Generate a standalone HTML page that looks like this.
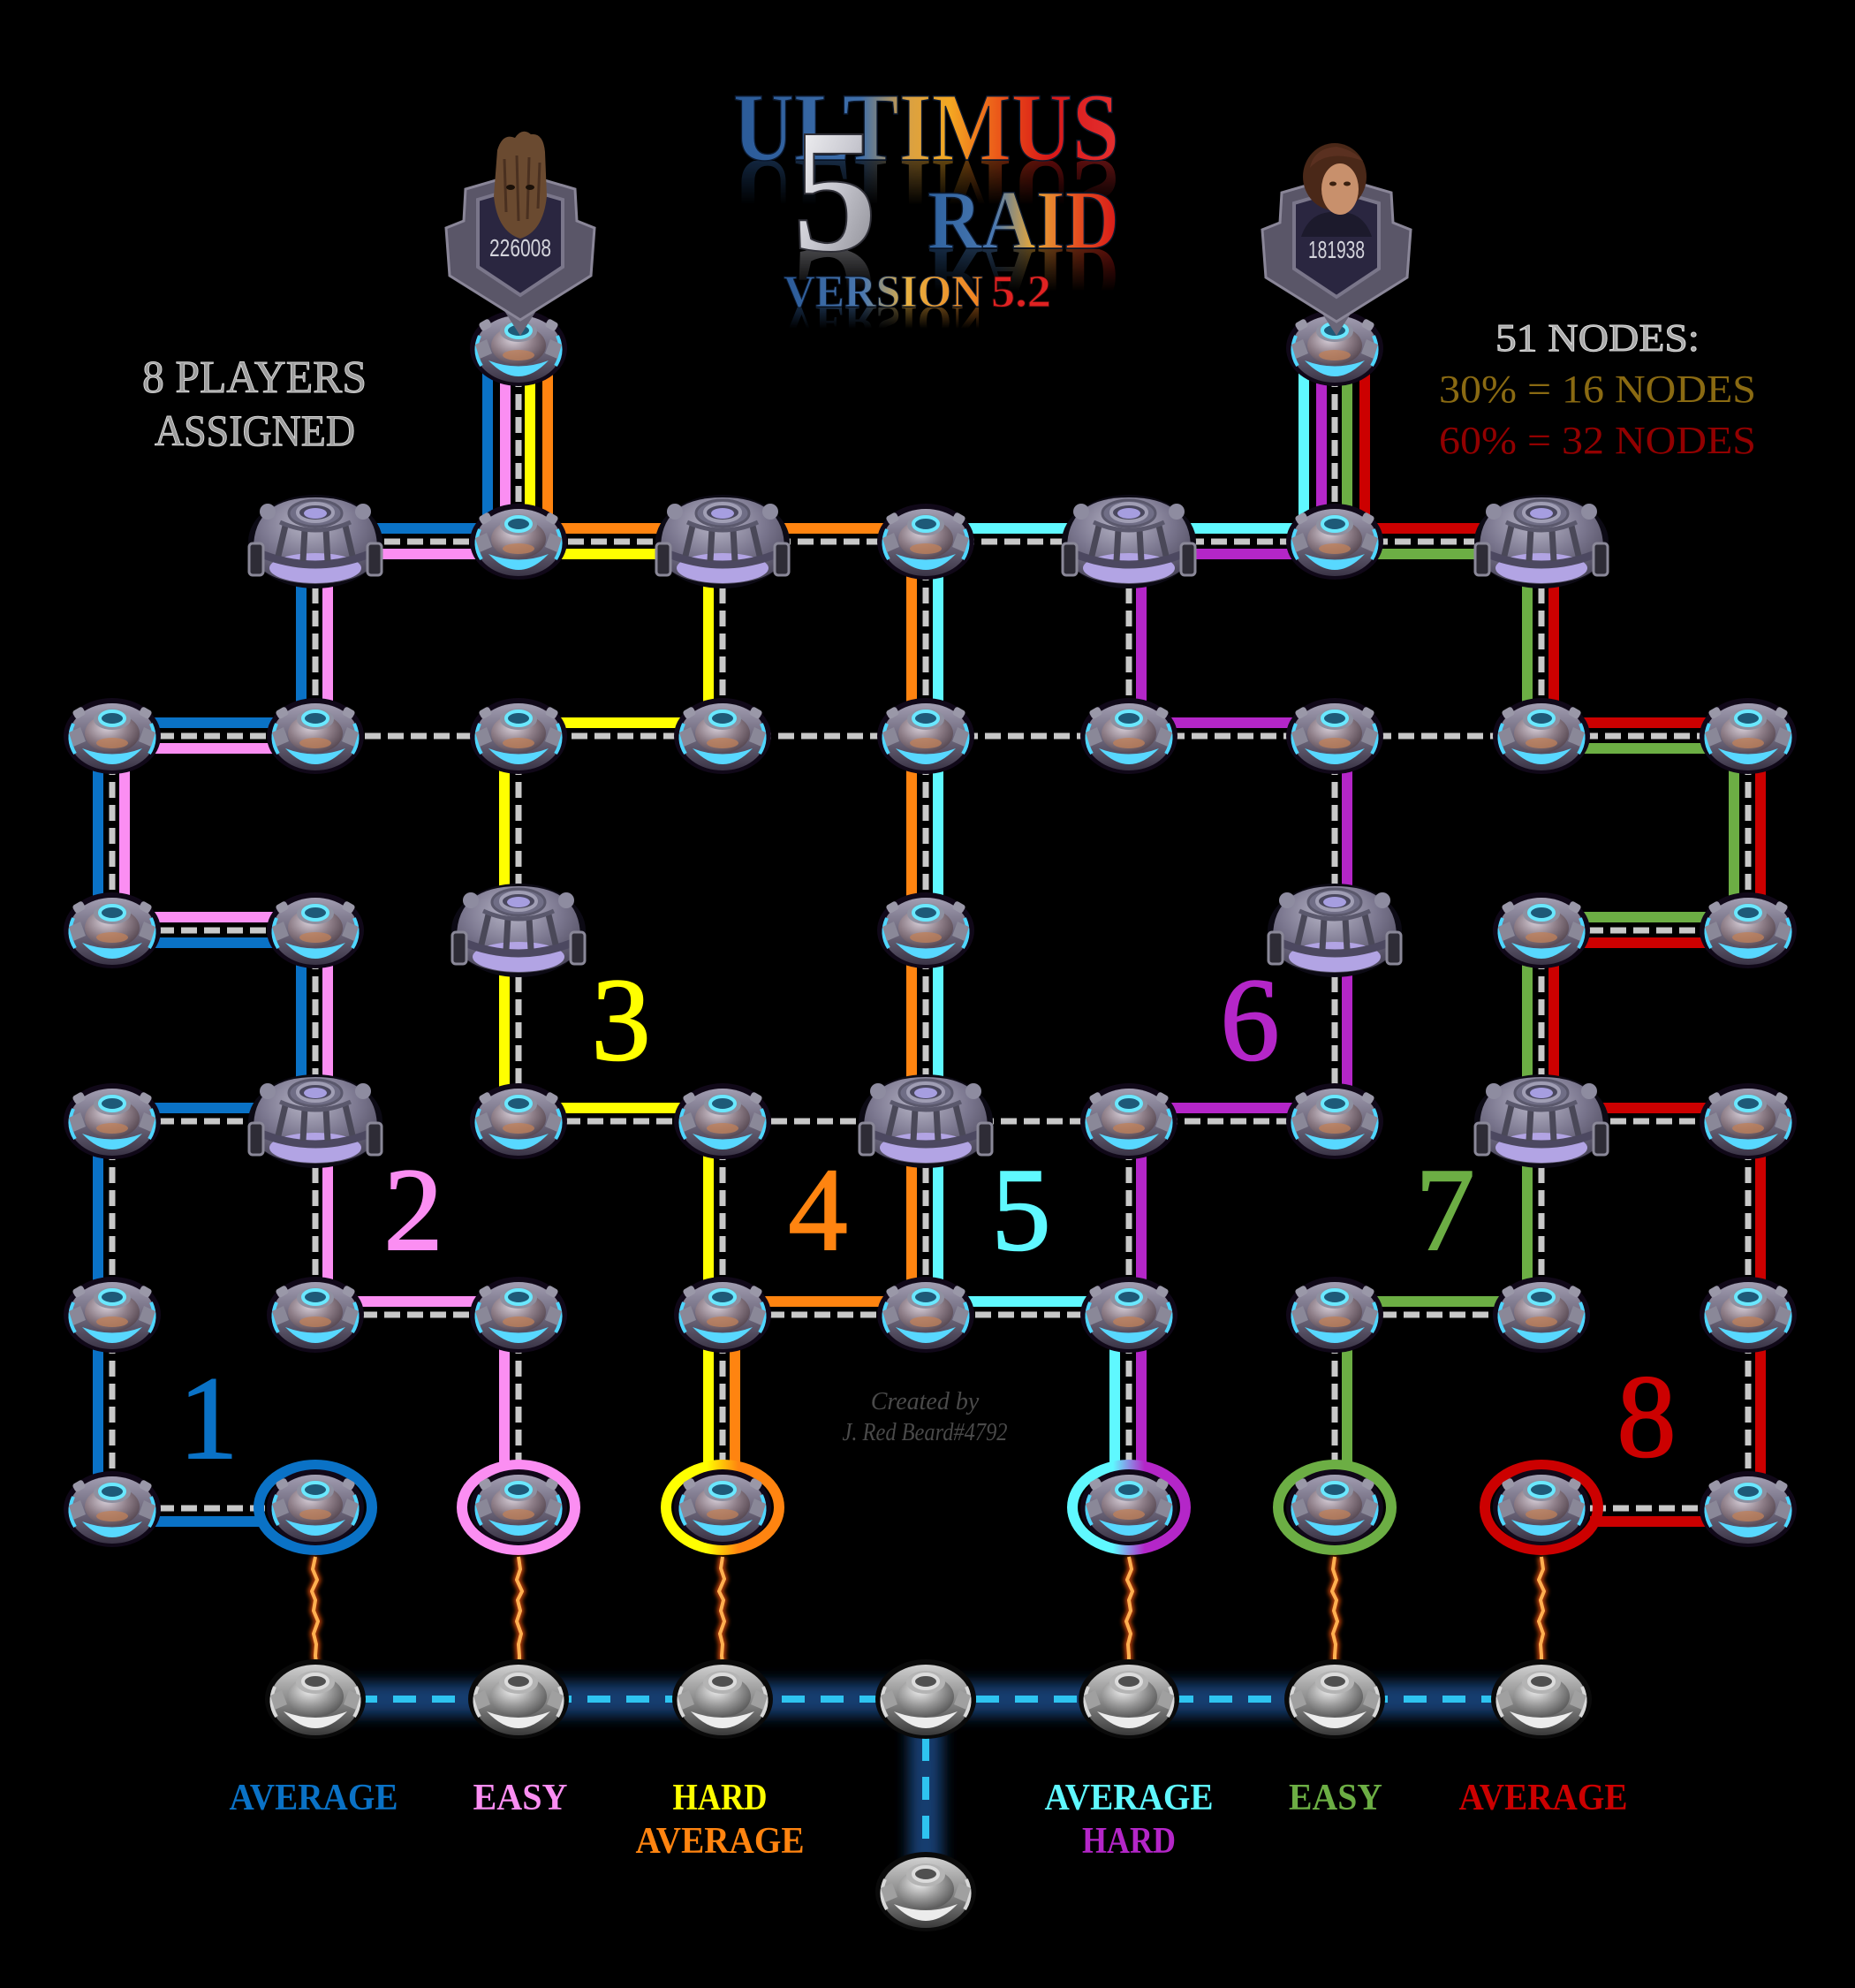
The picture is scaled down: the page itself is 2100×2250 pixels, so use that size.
<!DOCTYPE html>
<html><head><meta charset="utf-8"><style>
html,body{margin:0;padding:0;background:#000;}
body{width:2100px;height:2250px;overflow:hidden;}
svg{display:block;}
.b{stroke:#0a72c6;stroke-width:12;}
.p{stroke:#fb8ef2;stroke-width:12;}
.y{stroke:#ffff00;stroke-width:12;}
.o{stroke:#ff8410;stroke-width:12;}
.c{stroke:#5ff8ff;stroke-width:12;}
.u{stroke:#b426c8;stroke-width:12;}
.g{stroke:#6cae44;stroke-width:12;}
.r{stroke:#cc0000;stroke-width:12;}
.d{stroke:#c8c8c8;stroke-width:7;stroke-dasharray:18 8;}
.t{font-family:"Liberation Serif",serif;}
</style></head><body>
<svg width="2100" height="2250" viewBox="0 0 2100 2250" xmlns="http://www.w3.org/2000/svg">
<defs>
<linearGradient id="gBody" x1="0" y1="0" x2="0" y2="1"><stop offset="0" stop-color="#a29eb2"/><stop offset=".5" stop-color="#6e687c"/><stop offset="1" stop-color="#3a3446"/></linearGradient>
<radialGradient id="gDome" cx=".4" cy=".35" r=".75"><stop offset="0" stop-color="#d8d0da"/><stop offset=".5" stop-color="#8e7e88"/><stop offset="1" stop-color="#4a3c46"/></radialGradient>
<radialGradient id="gBig" cx=".45" cy=".3" r=".8"><stop offset="0" stop-color="#b8b6c8"/><stop offset=".5" stop-color="#7a768e"/><stop offset="1" stop-color="#403c4e"/></radialGradient>
<linearGradient id="gGrey" x1="0" y1="0" x2="0" y2="1"><stop offset="0" stop-color="#d0d0d0"/><stop offset=".5" stop-color="#8a8a8a"/><stop offset="1" stop-color="#3a3a3a"/></linearGradient>
<radialGradient id="gGD" cx=".4" cy=".35" r=".75"><stop offset="0" stop-color="#f0f0f0"/><stop offset=".5" stop-color="#9a9a9a"/><stop offset="1" stop-color="#4a4a4a"/></radialGradient>
<linearGradient id="ring3" gradientUnits="userSpaceOnUse" x1="800" y1="0" x2="836" y2="0"><stop offset="0" stop-color="#ffff00"/><stop offset="1" stop-color="#ff8410"/></linearGradient>
<linearGradient id="ring5" gradientUnits="userSpaceOnUse" x1="1260" y1="0" x2="1296" y2="0"><stop offset="0" stop-color="#5ff8ff"/><stop offset="1" stop-color="#b426c8"/></linearGradient>
<linearGradient id="tg" gradientUnits="userSpaceOnUse" x1="830" y1="0" x2="1267" y2="0"><stop offset="0" stop-color="#2a5a98"/><stop offset=".33" stop-color="#3e6eaa"/><stop offset=".45" stop-color="#d8a044"/><stop offset=".56" stop-color="#f4a822"/><stop offset=".7" stop-color="#ea5018"/><stop offset=".82" stop-color="#d81818"/><stop offset="1" stop-color="#e43030"/></linearGradient>
<linearGradient id="rg" gradientUnits="userSpaceOnUse" x1="1050" y1="0" x2="1267" y2="0"><stop offset="0" stop-color="#2e62a0"/><stop offset=".35" stop-color="#4a78b0"/><stop offset=".55" stop-color="#e8a838"/><stop offset=".78" stop-color="#e45020"/><stop offset="1" stop-color="#d81818"/></linearGradient>
<linearGradient id="vg" gradientUnits="userSpaceOnUse" x1="887" y1="0" x2="1113" y2="0"><stop offset="0" stop-color="#2a5a98"/><stop offset=".4" stop-color="#4a78b0"/><stop offset=".62" stop-color="#e8b040"/><stop offset="1" stop-color="#f08020"/></linearGradient>
<linearGradient id="sg" x1="0" y1="0" x2="1" y2="1"><stop offset="0" stop-color="#ffffff"/><stop offset=".5" stop-color="#c8c8d0"/><stop offset="1" stop-color="#808088"/></linearGradient>
<linearGradient id="f1" gradientUnits="userSpaceOnUse" x1="0" y1="182" x2="0" y2="232"><stop offset="0" stop-color="#fff" stop-opacity=".5"/><stop offset="1" stop-color="#fff" stop-opacity="0"/></linearGradient>
<linearGradient id="f2" gradientUnits="userSpaceOnUse" x1="0" y1="282" x2="0" y2="330"><stop offset="0" stop-color="#fff" stop-opacity=".5"/><stop offset="1" stop-color="#fff" stop-opacity="0"/></linearGradient>
<linearGradient id="f3" gradientUnits="userSpaceOnUse" x1="0" y1="348" x2="0" y2="372"><stop offset="0" stop-color="#fff" stop-opacity=".5"/><stop offset="1" stop-color="#fff" stop-opacity="0"/></linearGradient>
<mask id="m1" maskUnits="userSpaceOnUse" x="0" y="0" width="2100" height="2250"><rect x="800" y="182" width="500" height="52" fill="url(#f1)"/></mask>
<mask id="m2" maskUnits="userSpaceOnUse" x="0" y="0" width="2100" height="2250"><rect x="800" y="282" width="500" height="50" fill="url(#f2)"/></mask>
<mask id="m3" maskUnits="userSpaceOnUse" x="0" y="0" width="2100" height="2250"><rect x="800" y="348" width="500" height="26" fill="url(#f3)"/></mask>
<filter id="blur" filterUnits="userSpaceOnUse" x="0" y="0" width="2100" height="2250"><feGaussianBlur stdDeviation="8"/></filter>
<filter id="blur2" filterUnits="userSpaceOnUse" x="0" y="0" width="2100" height="2250"><feGaussianBlur stdDeviation="2.5"/></filter>

<g id="sn">
 <ellipse rx="55" ry="43" fill="#100818"/>
 <ellipse cy="1" rx="49" ry="38" fill="url(#gBody)"/>
 <path d="M-44,-14 Q-52,4 -42,20" fill="none" stroke="#4fd6ff" stroke-width="4"/>
 <path d="M44,-14 Q52,4 42,20" fill="none" stroke="#4fd6ff" stroke-width="4"/>
 <path d="M-34,14 Q0,27 34,14 Q0,50 -34,14Z" fill="#58d8ff"/>
 <ellipse cy="-3" rx="31" ry="22" fill="url(#gDome)"/>
 <ellipse cy="8" rx="18" ry="6" fill="#c08058" opacity=".75"/>
 <path d="M-49,-4 L-36,-10 L-30,6 L-44,12Z" fill="#8a8898"/>
 <path d="M49,-4 L36,-10 L30,6 L44,12Z" fill="#8a8898"/>
 <rect x="-44" y="-31" width="13" height="10" rx="3" fill="#9a98a8" transform="rotate(-30 -38 -26)"/>
 <rect x="31" y="-31" width="13" height="10" rx="3" fill="#9a98a8" transform="rotate(30 38 -26)"/>
 <ellipse cy="-19" rx="21" ry="12" fill="#8e90a0"/>
 <ellipse cy="-20" rx="14" ry="8" fill="#1e5a78" stroke="#6ae8ff" stroke-width="4"/>
</g>
<g id="gn">
 <ellipse rx="57" ry="45" fill="#0a0a0a"/>
 <ellipse cy="1" rx="51" ry="40" fill="url(#gGrey)"/>
 <path d="M-46,-14 Q-54,4 -44,20" fill="none" stroke="#d8d8d8" stroke-width="4"/>
 <path d="M46,-14 Q54,4 44,20" fill="none" stroke="#d8d8d8" stroke-width="4"/>
 <path d="M-36,14 Q0,28 36,14 Q0,52 -36,14Z" fill="#ececec"/>
 <ellipse cy="-3" rx="32" ry="23" fill="url(#gGD)"/>
 <path d="M-51,-4 L-38,-10 L-32,6 L-46,12Z" fill="#a0a0a0"/>
 <path d="M51,-4 L38,-10 L32,6 L46,12Z" fill="#a0a0a0"/>
 <ellipse cy="-19" rx="22" ry="13" fill="#b4b4b4"/>
 <ellipse cy="-20" rx="14" ry="8" fill="#505050" stroke="#dcdcdc" stroke-width="4"/>
</g>
<g id="bn">
 <ellipse rx="76" ry="53" fill="#0c0a14"/>
 <path d="M-70,8 Q-70,-50 0,-50 Q70,-50 70,8 Q70,46 0,48 Q-70,46 -70,8Z" fill="url(#gBig)"/>
 <ellipse cy="30" rx="52" ry="17" fill="#b2a4e4"/>
 <path d="M-66,12 Q0,40 66,12" fill="none" stroke="#4c4860" stroke-width="9"/>
 <g stroke="#4a4858" stroke-width="7"><line x1="-34" y1="-18" x2="-42" y2="16"/><line x1="-12" y1="-14" x2="-14" y2="22"/><line x1="12" y1="-14" x2="14" y2="22"/><line x1="34" y1="-18" x2="42" y2="16"/></g>
 <path d="M-40,-22 Q0,-4 40,-22" fill="none" stroke="#5a586c" stroke-width="5"/>
 <ellipse cy="-32" rx="30" ry="15" fill="#706e86" stroke="#5a586c" stroke-width="3"/>
 <ellipse cy="-33" rx="20" ry="10" fill="#4a485e" stroke="#a09eb4" stroke-width="4"/>
 <ellipse cy="-32" rx="13" ry="6" fill="#a69ee0"/>
 <rect x="-75" y="2" width="16" height="36" rx="4" fill="#2e2c36" stroke="#8a8898" stroke-width="3"/>
 <rect x="59" y="2" width="16" height="36" rx="4" fill="#2e2c36" stroke="#8a8898" stroke-width="3"/>
 <circle cx="-54" cy="-34" r="9" fill="#8e8ca0"/>
 <circle cx="54" cy="-34" r="9" fill="#8e8ca0"/>
</g>
</defs>

<rect width="2100" height="2250" fill="#000"/>

<!-- bottom glow path -->
<line x1="330" y1="1923" x2="1775" y2="1923" stroke="#163e70" stroke-width="38" filter="url(#blur)"/>
<line x1="1048" y1="1923" x2="1048" y2="2141" stroke="#163e70" stroke-width="38" filter="url(#blur)"/>
<line x1="357" y1="1923" x2="1745" y2="1923" stroke="#2ec4f0" stroke-width="8" stroke-dasharray="26 18"/>
<line x1="1048" y1="1923" x2="1048" y2="2141" stroke="#2ec4f0" stroke-width="8" stroke-dasharray="26 18"/>

<!-- top verticals -->
<line class="b" x1="552" y1="394" x2="552" y2="613"/>
<line class="p" x1="572" y1="394" x2="572" y2="613"/>
<line class="y" x1="600" y1="394" x2="600" y2="613"/>
<line class="o" x1="620" y1="394" x2="620" y2="613"/>
<line class="d" x1="587" y1="394" x2="587" y2="613"/>
<line class="c" x1="1476" y1="394" x2="1476" y2="613"/>
<line class="u" x1="1496" y1="394" x2="1496" y2="613"/>
<line class="g" x1="1525" y1="394" x2="1525" y2="613"/>
<line class="r" x1="1545" y1="394" x2="1545" y2="613"/>
<line class="d" x1="1511" y1="394" x2="1511" y2="613"/>

<!-- row 1 -->
<line class="b" x1="357" y1="598" x2="587" y2="598"/>
<line class="p" x1="357" y1="627" x2="587" y2="627"/>
<line class="o" x1="587" y1="598" x2="1048" y2="598"/>
<line class="y" x1="587" y1="627" x2="818" y2="627"/>
<line class="c" x1="1048" y1="598" x2="1511" y2="598"/>
<line class="u" x1="1278" y1="627" x2="1511" y2="627"/>
<line class="r" x1="1511" y1="598" x2="1745" y2="598"/>
<line class="g" x1="1511" y1="627" x2="1745" y2="627"/>
<line class="d" x1="357" y1="613" x2="1745" y2="613"/>

<!-- row1->2 -->
<line class="b" x1="341" y1="613" x2="341" y2="833"/>
<line class="p" x1="371" y1="613" x2="371" y2="833"/>
<line class="y" x1="802" y1="613" x2="802" y2="833"/>
<line class="o" x1="1032" y1="613" x2="1032" y2="833"/>
<line class="c" x1="1062" y1="613" x2="1062" y2="833"/>
<line class="u" x1="1292" y1="613" x2="1292" y2="833"/>
<line class="g" x1="1729" y1="613" x2="1729" y2="833"/>
<line class="r" x1="1759" y1="613" x2="1759" y2="833"/>
<line class="d" x1="357" y1="613" x2="357" y2="833"/>
<line class="d" x1="818" y1="613" x2="818" y2="833"/>
<line class="d" x1="1048" y1="613" x2="1048" y2="833"/>
<line class="d" x1="1278" y1="613" x2="1278" y2="833"/>
<line class="d" x1="1745" y1="613" x2="1745" y2="833"/>

<!-- row 2 -->
<line class="b" x1="127" y1="818" x2="357" y2="818"/>
<line class="p" x1="127" y1="847" x2="357" y2="847"/>
<line class="y" x1="587" y1="818" x2="818" y2="818"/>
<line class="u" x1="1278" y1="818" x2="1511" y2="818"/>
<line class="r" x1="1745" y1="818" x2="1979" y2="818"/>
<line class="g" x1="1745" y1="847" x2="1979" y2="847"/>
<line class="d" x1="127" y1="833" x2="1979" y2="833"/>

<!-- row2->3 -->
<line class="b" x1="111" y1="833" x2="111" y2="1053"/>
<line class="p" x1="141" y1="833" x2="141" y2="1053"/>
<line class="y" x1="571" y1="833" x2="571" y2="1053"/>
<line class="o" x1="1032" y1="833" x2="1032" y2="1053"/>
<line class="c" x1="1062" y1="833" x2="1062" y2="1053"/>
<line class="u" x1="1525" y1="833" x2="1525" y2="1053"/>
<line class="g" x1="1963" y1="833" x2="1963" y2="1053"/>
<line class="r" x1="1993" y1="833" x2="1993" y2="1053"/>
<line class="d" x1="127" y1="833" x2="127" y2="1053"/>
<line class="d" x1="587" y1="833" x2="587" y2="1053"/>
<line class="d" x1="1048" y1="833" x2="1048" y2="1053"/>
<line class="d" x1="1511" y1="833" x2="1511" y2="1053"/>
<line class="d" x1="1979" y1="833" x2="1979" y2="1053"/>

<!-- row 3 -->
<line class="p" x1="127" y1="1038" x2="357" y2="1038"/>
<line class="b" x1="127" y1="1067" x2="357" y2="1067"/>
<line class="d" x1="127" y1="1053" x2="357" y2="1053"/>
<line class="g" x1="1745" y1="1038" x2="1979" y2="1038"/>
<line class="r" x1="1745" y1="1067" x2="1979" y2="1067"/>
<line class="d" x1="1745" y1="1053" x2="1979" y2="1053"/>

<!-- row3->4 -->
<line class="b" x1="341" y1="1053" x2="341" y2="1269"/>
<line class="p" x1="371" y1="1053" x2="371" y2="1269"/>
<line class="y" x1="571" y1="1053" x2="571" y2="1269"/>
<line class="o" x1="1032" y1="1053" x2="1032" y2="1269"/>
<line class="c" x1="1062" y1="1053" x2="1062" y2="1269"/>
<line class="u" x1="1525" y1="1053" x2="1525" y2="1269"/>
<line class="g" x1="1729" y1="1053" x2="1729" y2="1269"/>
<line class="r" x1="1759" y1="1053" x2="1759" y2="1269"/>
<line class="d" x1="357" y1="1053" x2="357" y2="1269"/>
<line class="d" x1="587" y1="1053" x2="587" y2="1269"/>
<line class="d" x1="1048" y1="1053" x2="1048" y2="1269"/>
<line class="d" x1="1511" y1="1053" x2="1511" y2="1269"/>
<line class="d" x1="1745" y1="1053" x2="1745" y2="1269"/>

<!-- row 4 -->
<line class="b" x1="127" y1="1254" x2="357" y2="1254"/>
<line class="d" x1="127" y1="1269" x2="357" y2="1269"/>
<line class="y" x1="587" y1="1254" x2="818" y2="1254"/>
<line class="u" x1="1278" y1="1254" x2="1511" y2="1254"/>
<line class="d" x1="587" y1="1269" x2="1511" y2="1269"/>
<line class="r" x1="1745" y1="1254" x2="1979" y2="1254"/>
<line class="d" x1="1745" y1="1269" x2="1979" y2="1269"/>

<!-- row4->5 -->
<line class="b" x1="111" y1="1269" x2="111" y2="1488"/>
<line class="p" x1="371" y1="1269" x2="371" y2="1488"/>
<line class="y" x1="802" y1="1269" x2="802" y2="1488"/>
<line class="o" x1="1032" y1="1269" x2="1032" y2="1488"/>
<line class="c" x1="1062" y1="1269" x2="1062" y2="1488"/>
<line class="u" x1="1292" y1="1269" x2="1292" y2="1488"/>
<line class="g" x1="1729" y1="1269" x2="1729" y2="1488"/>
<line class="r" x1="1993" y1="1269" x2="1993" y2="1488"/>
<line class="d" x1="127" y1="1269" x2="127" y2="1488"/>
<line class="d" x1="357" y1="1269" x2="357" y2="1488"/>
<line class="d" x1="818" y1="1269" x2="818" y2="1488"/>
<line class="d" x1="1048" y1="1269" x2="1048" y2="1488"/>
<line class="d" x1="1278" y1="1269" x2="1278" y2="1488"/>
<line class="d" x1="1745" y1="1269" x2="1745" y2="1488"/>
<line class="d" x1="1979" y1="1269" x2="1979" y2="1488"/>

<!-- row 5 -->
<line class="p" x1="357" y1="1473" x2="587" y2="1473"/>
<line class="d" x1="357" y1="1488" x2="587" y2="1488"/>
<line class="o" x1="818" y1="1473" x2="1048" y2="1473"/>
<line class="c" x1="1048" y1="1473" x2="1278" y2="1473"/>
<line class="d" x1="818" y1="1488" x2="1278" y2="1488"/>
<line class="g" x1="1511" y1="1473" x2="1745" y2="1473"/>
<line class="d" x1="1511" y1="1488" x2="1745" y2="1488"/>

<!-- row5->6 -->
<line class="b" x1="111" y1="1488" x2="111" y2="1708"/>
<line class="p" x1="571" y1="1488" x2="571" y2="1660"/>
<line class="y" x1="802" y1="1488" x2="802" y2="1660"/>
<line class="o" x1="832" y1="1488" x2="832" y2="1660"/>
<line class="c" x1="1262" y1="1488" x2="1262" y2="1660"/>
<line class="u" x1="1292" y1="1488" x2="1292" y2="1660"/>
<line class="g" x1="1525" y1="1488" x2="1525" y2="1660"/>
<line class="r" x1="1993" y1="1488" x2="1993" y2="1708"/>
<line class="d" x1="127" y1="1488" x2="127" y2="1708"/>
<line class="d" x1="587" y1="1488" x2="587" y2="1660"/>
<line class="d" x1="818" y1="1488" x2="818" y2="1660"/>
<line class="d" x1="1278" y1="1488" x2="1278" y2="1660"/>
<line class="d" x1="1511" y1="1488" x2="1511" y2="1660"/>
<line class="d" x1="1979" y1="1488" x2="1979" y2="1708"/>

<!-- row 6 -->
<line class="b" x1="127" y1="1722" x2="300" y2="1722"/>
<line class="d" x1="127" y1="1707" x2="300" y2="1707"/>
<line class="r" x1="1800" y1="1722" x2="1979" y2="1722"/>
<line class="d" x1="1800" y1="1707" x2="1979" y2="1707"/>

<!-- rings -->
<g fill="none" stroke-width="12">
<ellipse cx="357" cy="1706" rx="64" ry="48" stroke="#0a72c6"/>
<ellipse cx="587" cy="1706" rx="64" ry="48" stroke="#fb8ef2"/>
<ellipse cx="818" cy="1706" rx="64" ry="48" stroke="url(#ring3)"/>
<ellipse cx="1278" cy="1706" rx="64" ry="48" stroke="url(#ring5)"/>
<ellipse cx="1511" cy="1706" rx="64" ry="48" stroke="#6cae44"/>
<ellipse cx="1745" cy="1706" rx="64" ry="48" stroke="#cc0000"/>
</g>

<!-- lightning -->
<g fill="none" stroke-linejoin="round">
<g stroke="#ff5a10" stroke-width="9" opacity=".7" filter="url(#blur2)">
<path d="M357,1762 l-3,14 l5,12 l-6,13 l4,10 l-2,12 l5,12 l-5,14 l3,12 l-1,13 l1,8"/>
<path d="M587,1762 l2,14 l-4,12 l6,13 l-5,10 l3,12 l-4,12 l5,14 l-3,12 l1,13 l0,8"/>
<path d="M818,1762 l-2,13 l4,12 l-6,14 l5,10 l-3,12 l4,12 l-5,14 l3,12 l-1,13 l1,8"/>
<path d="M1278,1762 l3,14 l-5,12 l6,13 l-4,10 l2,12 l-5,12 l5,14 l-3,12 l1,13 l0,8"/>
<path d="M1511,1762 l-2,14 l4,12 l-5,13 l5,10 l-3,12 l4,12 l-5,14 l3,12 l-1,13 l0,8"/>
<path d="M1745,1762 l2,14 l-5,12 l6,13 l-4,10 l3,12 l-5,12 l5,14 l-3,12 l1,13 l0,8"/>
</g>
<g stroke="#ffb050" stroke-width="4">
<path d="M357,1762 l-3,14 l5,12 l-6,13 l4,10 l-2,12 l5,12 l-5,14 l3,12 l-1,13 l1,8"/>
<path d="M587,1762 l2,14 l-4,12 l6,13 l-5,10 l3,12 l-4,12 l5,14 l-3,12 l1,13 l0,8"/>
<path d="M818,1762 l-2,13 l4,12 l-6,14 l5,10 l-3,12 l4,12 l-5,14 l3,12 l-1,13 l1,8"/>
<path d="M1278,1762 l3,14 l-5,12 l6,13 l-4,10 l2,12 l-5,12 l5,14 l-3,12 l1,13 l0,8"/>
<path d="M1511,1762 l-2,14 l4,12 l-5,13 l5,10 l-3,12 l4,12 l-5,14 l3,12 l-1,13 l0,8"/>
<path d="M1745,1762 l2,14 l-5,12 l6,13 l-4,10 l3,12 l-5,12 l5,14 l-3,12 l1,13 l0,8"/>
</g>
</g>

<!-- big nodes -->
<use href="#bn" x="357" y="613"/>
<use href="#bn" x="818" y="613"/>
<use href="#bn" x="1278" y="613"/>
<use href="#bn" x="1745" y="613"/>
<use href="#bn" x="587" y="1053"/>
<use href="#bn" x="1511" y="1053"/>
<use href="#bn" x="357" y="1269"/>
<use href="#bn" x="1048" y="1269"/>
<use href="#bn" x="1745" y="1269"/>

<!-- small nodes -->
<use href="#sn" x="587" y="394"/>
<use href="#sn" x="1511" y="394"/>
<use href="#sn" x="587" y="613"/>
<use href="#sn" x="1048" y="613"/>
<use href="#sn" x="1511" y="613"/>
<use href="#sn" x="127" y="833"/><use href="#sn" x="357" y="833"/><use href="#sn" x="587" y="833"/><use href="#sn" x="818" y="833"/><use href="#sn" x="1048" y="833"/><use href="#sn" x="1278" y="833"/><use href="#sn" x="1511" y="833"/><use href="#sn" x="1745" y="833"/><use href="#sn" x="1979" y="833"/>
<use href="#sn" x="127" y="1053"/><use href="#sn" x="357" y="1053"/><use href="#sn" x="1048" y="1053"/><use href="#sn" x="1745" y="1053"/><use href="#sn" x="1979" y="1053"/>
<use href="#sn" x="127" y="1269"/><use href="#sn" x="587" y="1269"/><use href="#sn" x="818" y="1269"/><use href="#sn" x="1278" y="1269"/><use href="#sn" x="1511" y="1269"/><use href="#sn" x="1979" y="1269"/>
<use href="#sn" x="127" y="1488"/><use href="#sn" x="357" y="1488"/><use href="#sn" x="587" y="1488"/><use href="#sn" x="818" y="1488"/><use href="#sn" x="1048" y="1488"/><use href="#sn" x="1278" y="1488"/><use href="#sn" x="1511" y="1488"/><use href="#sn" x="1745" y="1488"/><use href="#sn" x="1979" y="1488"/>
<use href="#sn" x="127" y="1708"/><use href="#sn" x="357" y="1706"/><use href="#sn" x="587" y="1706"/><use href="#sn" x="818" y="1706"/><use href="#sn" x="1278" y="1706"/><use href="#sn" x="1511" y="1706"/><use href="#sn" x="1745" y="1706"/><use href="#sn" x="1979" y="1708"/>

<!-- grey nodes -->
<use href="#gn" x="357" y="1923"/><use href="#gn" x="587" y="1923"/><use href="#gn" x="818" y="1923"/><use href="#gn" x="1048" y="1923"/><use href="#gn" x="1278" y="1923"/><use href="#gn" x="1511" y="1923"/><use href="#gn" x="1745" y="1923"/>
<use href="#gn" x="1048" y="2141"/>

<!-- badges -->
<g transform="translate(589,0)">
 <polygon points="-32,330 32,330 0,380" fill="#6a6678"/>
 <polygon points="0,196 62,214 64,250 84,258 80,312 0,362 -80,312 -84,258 -64,250 -62,214" fill="#5a5668" stroke="#8a8698" stroke-width="3"/>
 <polygon points="0,212 48,226 48,302 0,334 -48,302 -48,226" fill="#2a2640" stroke="#7a768a" stroke-width="4"/>
 <path d="M-26,170 Q-20,150 -6,156 Q2,144 12,152 Q26,150 28,172 L30,222 Q26,262 0,270 Q-26,262 -30,222Z" fill="#6a4a30"/>
 <path d="M-18,180 L-16,240 M-4,176 L-2,250 M10,178 L8,248 M22,184 L20,236" stroke="#4a3020" stroke-width="3"/>
 <ellipse cx="-11" cy="212" rx="5" ry="3" fill="#1a1008"/>
 <ellipse cx="11" cy="212" rx="5" ry="3" fill="#1a1008"/>
 <text x="0" y="290" text-anchor="middle" font-family="Liberation Sans Narrow,Liberation Sans,sans-serif" font-size="28" fill="#d4d4dc" textLength="70" lengthAdjust="spacingAndGlyphs">226008</text>
</g>
<g transform="translate(1513,0)">
 <polygon points="-32,330 32,330 0,380" fill="#6a6678"/>
 <polygon points="0,200 62,218 64,252 84,260 80,314 0,364 -80,314 -84,260 -64,252 -62,218" fill="#5a5668" stroke="#8a8698" stroke-width="3"/>
 <polygon points="0,216 48,230 48,304 0,336 -48,304 -48,230" fill="#2a2640" stroke="#7a768a" stroke-width="4"/>
 <path d="M-40,268 Q-30,238 0,240 Q30,238 40,268 Z" fill="#1c1a2c"/>
 <ellipse cx="-2" cy="200" rx="36" ry="38" fill="#4a2818"/>
 <ellipse cx="4" cy="214" rx="21" ry="29" fill="#c8906c"/>
 <path d="M-30,190 Q-10,168 30,182 Q20,170 0,166 Q-26,168 -30,190Z" fill="#5a3020"/>
 <ellipse cx="-4" cy="208" rx="4" ry="2.5" fill="#3a2010"/>
 <ellipse cx="12" cy="208" rx="4" ry="2.5" fill="#3a2010"/>
 <text x="0" y="292" text-anchor="middle" font-family="Liberation Sans Narrow,Liberation Sans,sans-serif" font-size="28" fill="#d4d4dc" textLength="64" lengthAdjust="spacingAndGlyphs">181938</text>
</g>

<!-- title reflections -->
<g mask="url(#m1)" opacity=".8"><text class="t" transform="translate(0,362) scale(1,-1)" x="830" y="181" font-size="110" font-weight="bold" fill="url(#tg)" textLength="437" lengthAdjust="spacingAndGlyphs">ULTIMUS</text></g>
<g mask="url(#m2)" opacity=".8"><text class="t" transform="translate(0,562) scale(1,-1)" x="1050" y="281" font-size="95" font-weight="bold" fill="url(#rg)" textLength="217" lengthAdjust="spacingAndGlyphs">RAID</text>
<text class="t" transform="translate(0,566) scale(1,-1)" x="897" y="283" font-size="200" font-weight="bold" fill="#b0b0b8" textLength="96" lengthAdjust="spacingAndGlyphs">5</text></g>
<g mask="url(#m3)" opacity=".8"><text class="t" transform="translate(0,694) scale(1,-1)" x="887" y="347" font-size="52" font-weight="bold" fill="url(#vg)" textLength="226" lengthAdjust="spacingAndGlyphs">VERSION</text></g>

<!-- title -->
<text class="t" x="830" y="181" font-size="110" font-weight="bold" fill="url(#tg)" stroke="#0c1a30" stroke-width="1.5" textLength="437" lengthAdjust="spacingAndGlyphs">ULTIMUS</text>
<text class="t" x="1050" y="281" font-size="95" font-weight="bold" fill="url(#rg)" stroke="#0c1a30" stroke-width="1.5" textLength="217" lengthAdjust="spacingAndGlyphs">RAID</text>
<text class="t" x="897" y="283" font-size="200" font-weight="bold" fill="url(#sg)" stroke="#303038" stroke-width="2" textLength="96" lengthAdjust="spacingAndGlyphs">5</text>
<text class="t" x="887" y="347" font-size="52" font-weight="bold" fill="url(#vg)" stroke="#0c1a30" stroke-width="1" textLength="226" lengthAdjust="spacingAndGlyphs">VERSION</text>
<text class="t" x="1122" y="347" font-size="52" font-weight="bold" fill="#e02222" stroke="#300808" stroke-width="1" textLength="68" lengthAdjust="spacingAndGlyphs">5.2</text>

<!-- side info -->
<text class="t" x="161" y="444" font-size="52" fill="#9c9c9c" stroke="#d8d8d8" stroke-width="1" textLength="254" lengthAdjust="spacingAndGlyphs">8 PLAYERS</text>
<text class="t" x="175" y="504" font-size="50" fill="#9c9c9c" stroke="#d8d8d8" stroke-width="1" textLength="227" lengthAdjust="spacingAndGlyphs">ASSIGNED</text>
<text class="t" x="1693" y="397" font-size="44" fill="#a8a8a8" stroke="#dcdcdc" stroke-width="1" textLength="231" lengthAdjust="spacingAndGlyphs">51 NODES:</text>
<text class="t" x="1629" y="455" font-size="44" fill="#8a6a12" textLength="359" lengthAdjust="spacingAndGlyphs">30% = 16 NODES</text>
<text class="t" x="1629" y="513" font-size="44" fill="#920000" textLength="359" lengthAdjust="spacingAndGlyphs">60% = 32 NODES</text>

<!-- path numbers -->
<g class="t" font-size="134" text-anchor="middle" stroke-width="2">
<text x="236" y="1650" fill="#0a72c6" stroke="#0a72c6">1</text>
<text x="468" y="1414" fill="#fb8ef2" stroke="#fb8ef2">2</text>
<text x="703" y="1199" fill="#ffff00" stroke="#ffff00">3</text>
<text x="926" y="1414" fill="#ff8410" stroke="#ff8410">4</text>
<text x="1156" y="1414" fill="#5ff8ff" stroke="#5ff8ff">5</text>
<text x="1415" y="1199" fill="#b426c8" stroke="#b426c8">6</text>
<text x="1636" y="1414" fill="#6cae44" stroke="#6cae44">7</text>
<text x="1864" y="1648" fill="#cc0000" stroke="#cc0000">8</text>
</g>

<!-- credit -->
<text x="1047" y="1595" text-anchor="middle" font-family="Liberation Serif,serif" font-style="italic" font-size="28" fill="#4a4a4a">Created by</text>
<text x="1047" y="1630" text-anchor="middle" font-family="Liberation Serif,serif" font-style="italic" font-size="28" fill="#4a4a4a" textLength="187" lengthAdjust="spacingAndGlyphs">J. Red Beard#4792</text>

<!-- difficulty labels -->
<g class="t" font-size="42" font-weight="bold" text-anchor="middle">
<text x="355" y="2048" fill="#0a72c6" textLength="191" lengthAdjust="spacingAndGlyphs">AVERAGE</text>
<text x="589" y="2048" fill="#fb8ef2" textLength="107" lengthAdjust="spacingAndGlyphs">EASY</text>
<text x="815" y="2048" fill="#ffff00" textLength="107" lengthAdjust="spacingAndGlyphs">HARD</text>
<text x="815" y="2097" fill="#ff8410" textLength="191" lengthAdjust="spacingAndGlyphs">AVERAGE</text>
<text x="1278" y="2048" fill="#5ff8ff" textLength="191" lengthAdjust="spacingAndGlyphs">AVERAGE</text>
<text x="1278" y="2097" fill="#b426c8" textLength="106" lengthAdjust="spacingAndGlyphs">HARD</text>
<text x="1512" y="2048" fill="#6cae44" textLength="106" lengthAdjust="spacingAndGlyphs">EASY</text>
<text x="1747" y="2048" fill="#cc0000" textLength="191" lengthAdjust="spacingAndGlyphs">AVERAGE</text>
</g>
</svg>
</body></html>
